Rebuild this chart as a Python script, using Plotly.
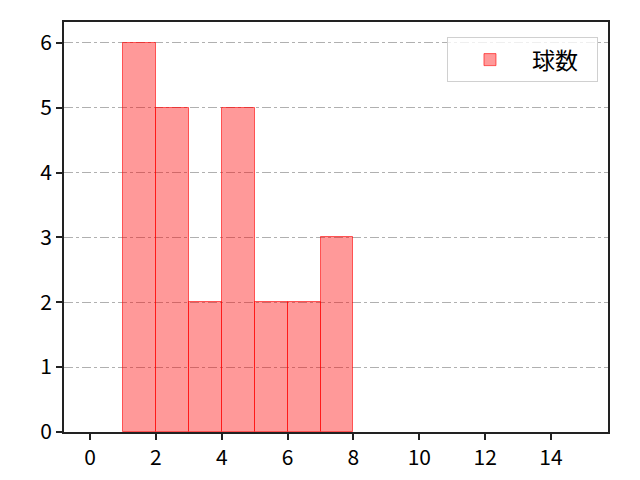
import plotly.graph_objects as go

# histogram bins (left edges) and counts
bin_left = [1, 2, 3, 4, 5, 6, 7]
counts = [6, 5, 2, 5, 2, 2, 3]
bin_width = 1
series_name = "球数"

FONT = "Noto Sans CJK JP, DejaVu Sans, sans-serif"

centers = [b + bin_width / 2 for b in bin_left]

fig = go.Figure()
fig.add_trace(go.Bar(
    x=centers,
    y=counts,
    width=[bin_width] * len(centers),
    name=series_name,
    marker=dict(color="rgba(255,0,0,0.4)",
                line=dict(color="rgba(255,0,0,0.6)", width=1)),
    showlegend=True,
))

fig.update_layout(
    width=640, height=480,
    margin=dict(l=64, r=32, t=22, b=48, autoexpand=False),
    paper_bgcolor="white", plot_bgcolor="white",
    font=dict(family=FONT, size=21, color="black"),
    bargap=0,
    legend=dict(x=0.704, y=0.963, xanchor="left", yanchor="top",
                orientation="h",
                bordercolor="#d0d0d0", borderwidth=1,
                bgcolor="rgba(255,255,255,0.8)",
                itemwidth=74, entrywidth=60, entrywidthmode="pixels",
                font=dict(size=23)),
)
fig.update_xaxes(
    range=[-0.79, 15.73], tickvals=list(range(0, 16, 2)),
    showgrid=False, zeroline=False, automargin=False,
    showline=True, linecolor="#222222", linewidth=2, mirror=True,
    ticks="outside", ticklen=6, tickwidth=1.5, tickcolor="#222222",
)
fig.update_yaxes(
    range=[0, 6.32], tickvals=list(range(0, 7)),
    showgrid=True, gridcolor="#b0b0b0", griddash="dashdot", gridwidth=1,
    zeroline=False, automargin=False,
    showline=True, linecolor="#222222", linewidth=2, mirror=True,
    ticks="outside", ticklen=6, tickwidth=1.5, tickcolor="#222222",
)

fig.write_html("out.html", config={"displayModeBar": False},
               post_script="document.body.style.margin='0';")
